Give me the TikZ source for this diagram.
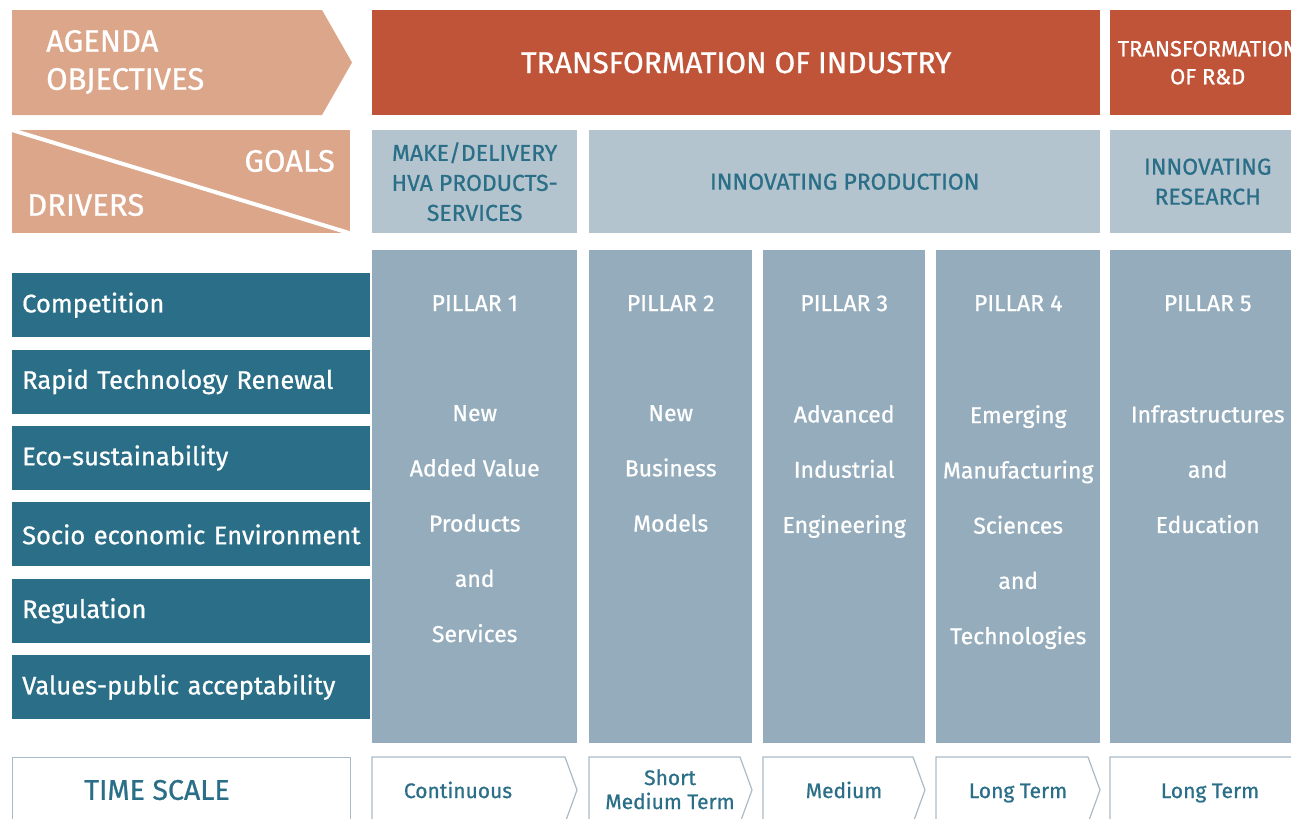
\documentclass[tikz,border=0pt]{standalone}
\usepackage{fontspec}
\setmainfont{Fira Sans}[UprightFeatures={FakeBold=0.8}]
\usetikzlibrary{positioning}

\definecolor{agendapeach}{HTML}{DCA68A}
\definecolor{industryred}{HTML}{C05438}
\definecolor{goalblue}{HTML}{B4C4CF}
\definecolor{pillarblue}{HTML}{94ACBB}
\definecolor{driverteal}{HTML}{2A6F87}
\definecolor{scalegray}{HTML}{A9BAC6}

\begin{document}
\begin{tikzpicture}[x=1pt,y=-1pt,
  box/.style={anchor=north west, inner sep=0pt, align=center},
  redbox/.style={box, fill=industryred, text=white},
  goalbox/.style={box, fill=goalblue, text=driverteal, font=\fontsize{23}{30}\selectfont},
  pillar/.style={box, fill=pillarblue},
  pillartext/.style={inner sep=0pt, align=center, text=white, font=\fontsize{23}{55.25}\selectfont},
  driver/.style={box, fill=driverteal, text=white, text width=358pt, align=left, minimum height=64pt, font=\fontsize{25.5}{30}\selectfont},
  scalebox/.style={draw=scalegray, line width=1.2pt},
  scaletext/.style={inner sep=0pt, anchor=base, align=center, text=driverteal, font=\fontsize{21}{24}\selectfont}]

\useasboundingbox (0,0) rectangle (1291,819);

% agenda objectives
\fill[agendapeach] (12,10) -- (322,10) -- (352,62.5) -- (322,115) -- (12,115) -- cycle;
\node[anchor=west, align=left, inner sep=0pt, text=white, font=\fontsize{31}{38}\selectfont] (agenda) at (46,62) {AGENDA\\OBJECTIVES};

% goals / drivers
\node[box, fill=agendapeach, minimum width=338, minimum height=103] (goals) at (12,130) {};
\draw[white, line width=4] (goals.north west) -- (goals.south east);
\node[anchor=east, inner sep=0pt, text=white, font=\fontsize{31}{30}\selectfont] (goaltext) at (335,161) {GOALS};
\node[anchor=west, inner sep=0pt, text=white, font=\fontsize{31}{30}\selectfont] (drivertext) at (27,205) {DRIVERS};

% objectives
\node[redbox, minimum width=728, minimum height=105, font=\fontsize{30}{30}\selectfont] (industry) at (372,10) {TRANSFORMATION OF INDUSTRY};
\node[redbox, minimum width=195, minimum height=105, font=\fontsize{22}{28}\selectfont] (rnd) at (1110,10) {TRANSFORMATION\\OF R\&D};

% goals
\node[goalbox, minimum width=205, minimum height=103] (make) at (372,130) {MAKE/DELIVERY\\HVA PRODUCTS-\\SERVICES};
\node[goalbox, minimum width=511, minimum height=103] (production) at (589,130) {INNOVATING PRODUCTION};
\node[goalbox, minimum width=195, minimum height=103] (research) at (1110,130) {INNOVATING\\RESEARCH};

% pillars
\foreach \x/\w/\n/\ptext in {372/205/1/{New\\Added Value\\Products\\and\\Services}, 589/163/2/{New\\Business\\Models}, 763/162/3/{Advanced\\Industrial\\Engineering}, 936/164/4/{Emerging\\Manufacturing\\Sciences\\and\\Technologies}, 1110/195/5/{Infrastructures\\and\\Education}}{
  \node[pillar, minimum width=\w, minimum height=493] (pil\n) at (\x,250) {};
  \node[pillartext, below=45pt of pil\n.north] (pilname\n) {PILLAR \n};
  \node[pillartext, below=155pt of pil\n.north] (pilbody\n) {\ptext};
}

% drivers
\foreach \txt [count=\i] in {Competition, Rapid Technology Renewal, Eco-sustainability, Socio economic Environment, Regulation, Values-public acceptability}
  \node[driver] (drv\i) at (12,{273+76.4*(\i-1)}) {\hspace*{10pt}\txt};

% time scale
\node[box, scalebox, minimum width=338, minimum height=66] (timescale) at (12,757) {};
\node[inner sep=0pt, text=driverteal, font=\fontsize{28.5}{30}\selectfont] (timetext) at (157,790) {TIME SCALE};
\foreach \x/\w/\c/\b/\n/\txt in {372/205/458/798/1/Continuous, 589/163/670/809/2/{Short\\Medium Term}, 763/162/844/798/3/Medium, 936/164/1018/798/4/Long Term, 1110/195/1210/798/5/Long Term}{
  \draw[scalebox] (\x,757) -- ++(\w-12,0) -- ++(12,33) -- ++(-12,33) -- ++(12-\w,0) -- cycle;
  \node[scaletext] (term\n) at (\c,\b) {\txt};
}
\end{tikzpicture}
\end{document}
